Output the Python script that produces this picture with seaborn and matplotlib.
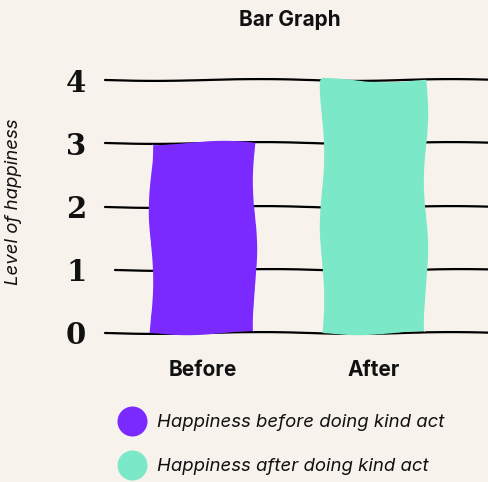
import matplotlib
matplotlib.use("Agg")
import matplotlib.pyplot as plt
from matplotlib.lines import Line2D
import seaborn as sns
import pandas as pd

# Data
categories = ["Before", "After"]
happiness = [3, 4]
legend_labels = ["Happiness before doing kind act", "Happiness after doing kind act"]
y_ticks = [0, 1, 2, 3, 4]

bg = "#f7f2ec"
colors = ["#7a29ff", "#7be8c8"]
ink = "#111111"

sns.set_theme(style="white")
plt.rcParams["font.family"] = ["Inter", "DejaVu Sans"]
plt.rcParams.update({"text.color": ink, "xtick.color": ink,
                     "ytick.color": ink, "axes.labelcolor": ink})

W, H = 489, 482
fig = plt.figure(figsize=(W / 100, H / 100), dpi=100, facecolor=bg)
ax = fig.add_axes([105 / W, 1 - 333 / H, (W - 105) / W, (333 - 80) / H])
ax.set_facecolor(bg)

df = pd.DataFrame({"when": categories, "level": happiness})
sns.barplot(data=df, x="when", y="level", hue="when", palette=colors,
            saturation=1, width=0.61, legend=False, ax=ax, zorder=3)

# hand-drawn look for the bars
for p in ax.patches:
    p.set_linewidth(0)
    p.set_clip_on(False)
    p.set_sketch_params(scale=2.2, length=160, randomness=2)

# wavy guide lines
for y in y_ticks:
    start = 10 / 384 if y == 1 else 0.0
    ln = ax.axhline(y, xmin=start, xmax=1, color="black", lw=1.6, zorder=1,
                    clip_on=False)
    ln.set_sketch_params(scale=0.9, length=220, randomness=2)

ax.set_xlim(-0.573, 1.673)
ax.set_ylim(0, 4)
ax.set_yticks(y_ticks)
ax.set_yticklabels([str(t) for t in y_ticks], family="DejaVu Serif",
                   fontweight="bold", fontsize=21)
ax.tick_params(axis="y", length=0, pad=13.5)
ax.tick_params(axis="x", length=0, pad=19.5)
for lbl in ax.get_xticklabels():
    lbl.set_fontweight("bold")
    lbl.set_fontsize(15)
for s in ax.spines.values():
    s.set_visible(False)
ax.set_xlabel("")
ax.set_ylabel("Level of happiness", fontstyle="italic", fontsize=13.4)
ax.yaxis.set_label_coords(-0.216, 0.517)

fig.text(290 / W, 1 - 20 / H, "Bar Graph", ha="center", va="center",
         fontsize=15, fontweight="bold")

handles = [Line2D([], [], ls="none", marker="o", markersize=21.6,
                  markerfacecolor=c, markeredgewidth=0) for c in colors]
leg = fig.legend(handles, legend_labels, loc="upper left",
                 bbox_to_anchor=(122.7 / W, 1 - 414 / H), frameon=False,
                 borderpad=0, borderaxespad=0, handlelength=1.0,
                 handletextpad=0.84, labelspacing=1.45,
                 prop={"style": "italic", "size": 13.4})

fig.savefig("out.png", dpi=100, facecolor=bg)
